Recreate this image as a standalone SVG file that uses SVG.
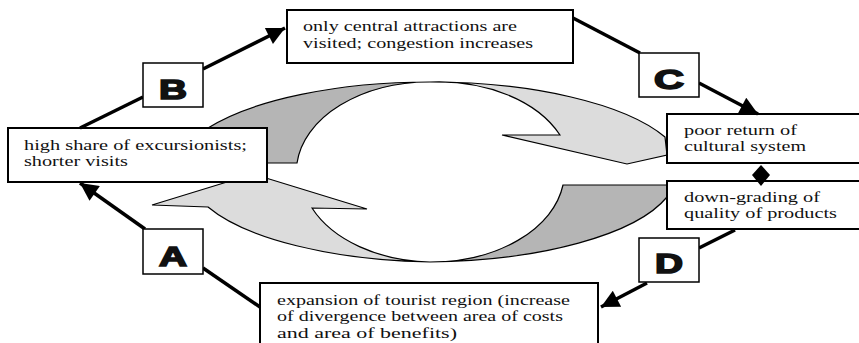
<svg xmlns="http://www.w3.org/2000/svg" width="859" height="343" viewBox="0 0 859 343">
<defs>
<style>
.box{fill:#fff;stroke:#000;stroke-width:2}
.lbl{fill:#fff;stroke:#000;stroke-width:1.5}
.t{font-family:"Liberation Serif","DejaVu Serif","Times New Roman",serif;font-size:15px;fill:#111}
.L{font-family:"Liberation Sans",Arial,sans-serif;font-weight:bold;font-size:27px;fill:#111;stroke:#111;stroke-width:1.6;text-anchor:middle}
.dark{fill:#b5b5b5;stroke:#000;stroke-width:1.2}
.light{fill:#dcdcdc;stroke:#000;stroke-width:1.2}
.c{fill:none;stroke:#000;stroke-width:3.5}
</style>
<marker id="ah" viewBox="0 0 10 10" refX="10" refY="5" markerWidth="24" markerHeight="18" markerUnits="userSpaceOnUse" orient="auto">
<path d="M0,0 L10,5 L0,10 Z" fill="#000"/>
</marker>
</defs>
<rect width="859" height="343" fill="#fff"/>
<g id="cycle">
<path class="dark" d="M208,128 A255,90 0 0 1 430,82 A133,90 0 0 0 297,163 L262,163 L262,128 Z"/>
<path class="light" d="M430,82 A255,90 0 0 1 665,137 L667,155 L627,164 L502,135 L560,135 A133,90 0 0 0 430,82 Z"/>
<path class="light" d="M240,178 L152,205 L208,207 A255,90 0 0 0 430,262 A133,90 0 0 1 312,208 L367,209 L266,178 Z"/>
<path class="dark" d="M430,262 A255,90 0 0 0 667,197 L667,185 L563,185 A133,90 0 0 1 430,262 Z"/>
</g>
<g id="n-top">
<rect class="box" x="287" y="10" width="286" height="53"/>
<text class="t" x="303" y="31" textLength="214" lengthAdjust="spacingAndGlyphs">only central attractions are</text>
<text class="t" x="303" y="48" textLength="230" lengthAdjust="spacingAndGlyphs">visited; congestion increases</text>
</g>
<g id="n-left">
<rect class="box" x="8" y="128" width="259" height="54"/>
<text class="t" x="24" y="150" textLength="223" lengthAdjust="spacingAndGlyphs">high share of excursionists;</text>
<text class="t" x="24" y="166" textLength="104" lengthAdjust="spacingAndGlyphs">shorter visits</text>
</g>
<g id="n-poor">
<rect class="box" x="667" y="114" width="210" height="49"/>
<text class="t" x="684" y="135" textLength="113" lengthAdjust="spacingAndGlyphs">poor return of</text>
<text class="t" x="684" y="151" textLength="122" lengthAdjust="spacingAndGlyphs">cultural system</text>
</g>
<g id="n-down">
<rect class="box" x="667" y="181" width="210" height="48"/>
<text class="t" x="684" y="202" textLength="136" lengthAdjust="spacingAndGlyphs">down-grading of</text>
<text class="t" x="684" y="218" textLength="153" lengthAdjust="spacingAndGlyphs">quality of products</text>
</g>
<g id="n-bottom">
<rect class="box" x="260" y="283" width="338" height="70"/>
<text class="t" x="277" y="305" textLength="293" lengthAdjust="spacingAndGlyphs">expansion of tourist region (increase</text>
<text class="t" x="277" y="321" textLength="286" lengthAdjust="spacingAndGlyphs">of divergence between area of costs</text>
<text class="t" x="277" y="338" textLength="180" lengthAdjust="spacingAndGlyphs">and area of benefits)</text>
</g>
<g id="connectors">
<path class="c" d="M80,128 L143,97"/>
<path class="c" d="M203,69 L285,28" marker-end="url(#ah)"/>
<path class="c" d="M573,18 L640,53"/>
<path class="c" d="M699,83 L758,114" marker-end="url(#ah)"/>
<path class="c" d="M735,230 L699,248"/>
<path class="c" d="M647,283 L601,307" marker-end="url(#ah)"/>
<path class="c" d="M260,307 L203,268"/>
<path class="c" d="M145,229 L80,183" marker-end="url(#ah)"/>
<path d="M761,165 L770,175 L761,186 L752,175 Z" fill="#000"/>
</g>
<g id="l-B">
<rect class="lbl" x="143" y="63" width="60" height="44"/>
<text class="L" x="173" y="99" textLength="28" lengthAdjust="spacingAndGlyphs">B</text>
</g>
<g id="l-C">
<rect class="lbl" x="639" y="53" width="60" height="44"/>
<text class="L" x="669" y="89" textLength="30" lengthAdjust="spacingAndGlyphs">C</text>
</g>
<g id="l-A">
<rect class="lbl" x="143" y="229" width="60" height="45"/>
<text class="L" x="173" y="266" textLength="28" lengthAdjust="spacingAndGlyphs">A</text>
</g>
<g id="l-D">
<rect class="lbl" x="639" y="238" width="60" height="44"/>
<text class="L" x="669" y="273" textLength="28" lengthAdjust="spacingAndGlyphs">D</text>
</g>
</svg>
